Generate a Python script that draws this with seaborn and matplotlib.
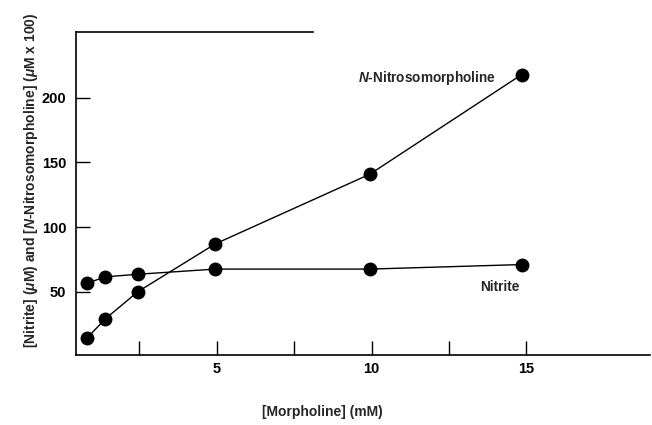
import matplotlib
matplotlib.use("Agg")
import matplotlib.pyplot as plt
import seaborn as sns
import pandas as pd

# Morpholine concentration (mM) and measured concentrations
morpholine_mM = [0.8, 1.4, 2.45, 4.95, 9.95, 14.85]
nitrite_uM = [56.5, 61.5, 63.5, 67.5, 67.5, 71.0]
nitrosomorpholine_uMx100 = [14.0, 29.0, 50.0, 87.0, 141.0, 218.0]

x_ticks = [2.5, 5, 7.5, 10, 12.5, 15]
x_tick_labels = ["", "5", "", "10", "", "15"]
y_ticks = [50, 100, 150, 200]
y_tick_labels = ["50", "100", "150", "200"]

sns.set_style("ticks")
plt.rcParams["font.family"] = ["Liberation Sans", "DejaVu Sans"]
plt.rcParams["font.weight"] = "bold"
plt.rcParams["mathtext.fontset"] = "custom"
plt.rcParams["mathtext.rm"] = "Liberation Sans:bold"
plt.rcParams["mathtext.it"] = "Liberation Sans:italic:bold"
plt.rcParams["mathtext.bf"] = "Liberation Sans:bold"

df = pd.DataFrame({
    "morpholine": morpholine_mM * 2,
    "conc": nitrite_uM + nitrosomorpholine_uMx100,
    "series": ["Nitrite"] * len(morpholine_mM) + ["N-Nitrosomorpholine"] * len(morpholine_mM),
})

fig = plt.figure(figsize=(6.52, 4.25), dpi=100)
ax = fig.add_axes([76 / 652, 70 / 425, 574 / 652, 323 / 425])

sns.lineplot(
    data=df, x="morpholine", y="conc", hue="series", style="series",
    palette={"Nitrite": "black", "N-Nitrosomorpholine": "black"},
    markers={"Nitrite": "o", "N-Nitrosomorpholine": "o"},
    dashes=False, markersize=10, linewidth=1.0, markeredgewidth=0,
    legend=False, ax=ax, sort=False,
)

ax.set_xlim(0.45, 19.0)
ax.set_ylim(1, 251)

ax.set_xticks(x_ticks)
ax.set_xticklabels(x_tick_labels)
ax.set_yticks(y_ticks)
ax.set_yticklabels(y_tick_labels)
ax.tick_params(axis="both", direction="in", length=10, width=1.0, colors="black",
               labelsize=10.5)
ax.tick_params(axis="x", pad=5)
ax.tick_params(axis="y", pad=7)
for lab in ax.get_xticklabels() + ax.get_yticklabels():
    lab.set_fontweight("bold")

for side in ["left", "bottom", "top"]:
    ax.spines[side].set_color("black")
    ax.spines[side].set_linewidth(1.2)
ax.spines["right"].set_visible(False)
ax.spines["top"].set_bounds(0.45, 8.1)

ax.set_xlabel("[Morpholine] (mM)", fontsize=10, fontweight="bold", va="center")
ax.xaxis.set_label_coords(0.43, -0.176)
ax.set_ylabel(r"[Nitrite] ($\mu$M) and [$N$-Nitrosomorpholine] ($\mu$M x 100)",
              fontsize=10, fontweight="bold", va="center")
ax.yaxis.set_label_coords(-0.078, 0.54)

ax.text(9.55, 215.5, r"$N$-Nitrosomorpholine", fontsize=9.8, fontweight="bold",
        ha="left", va="center")
ax.text(13.5, 54, "Nitrite", fontsize=9.8, fontweight="bold",
        ha="left", va="center")

fig.savefig("out.png", dpi=100, facecolor="white")
